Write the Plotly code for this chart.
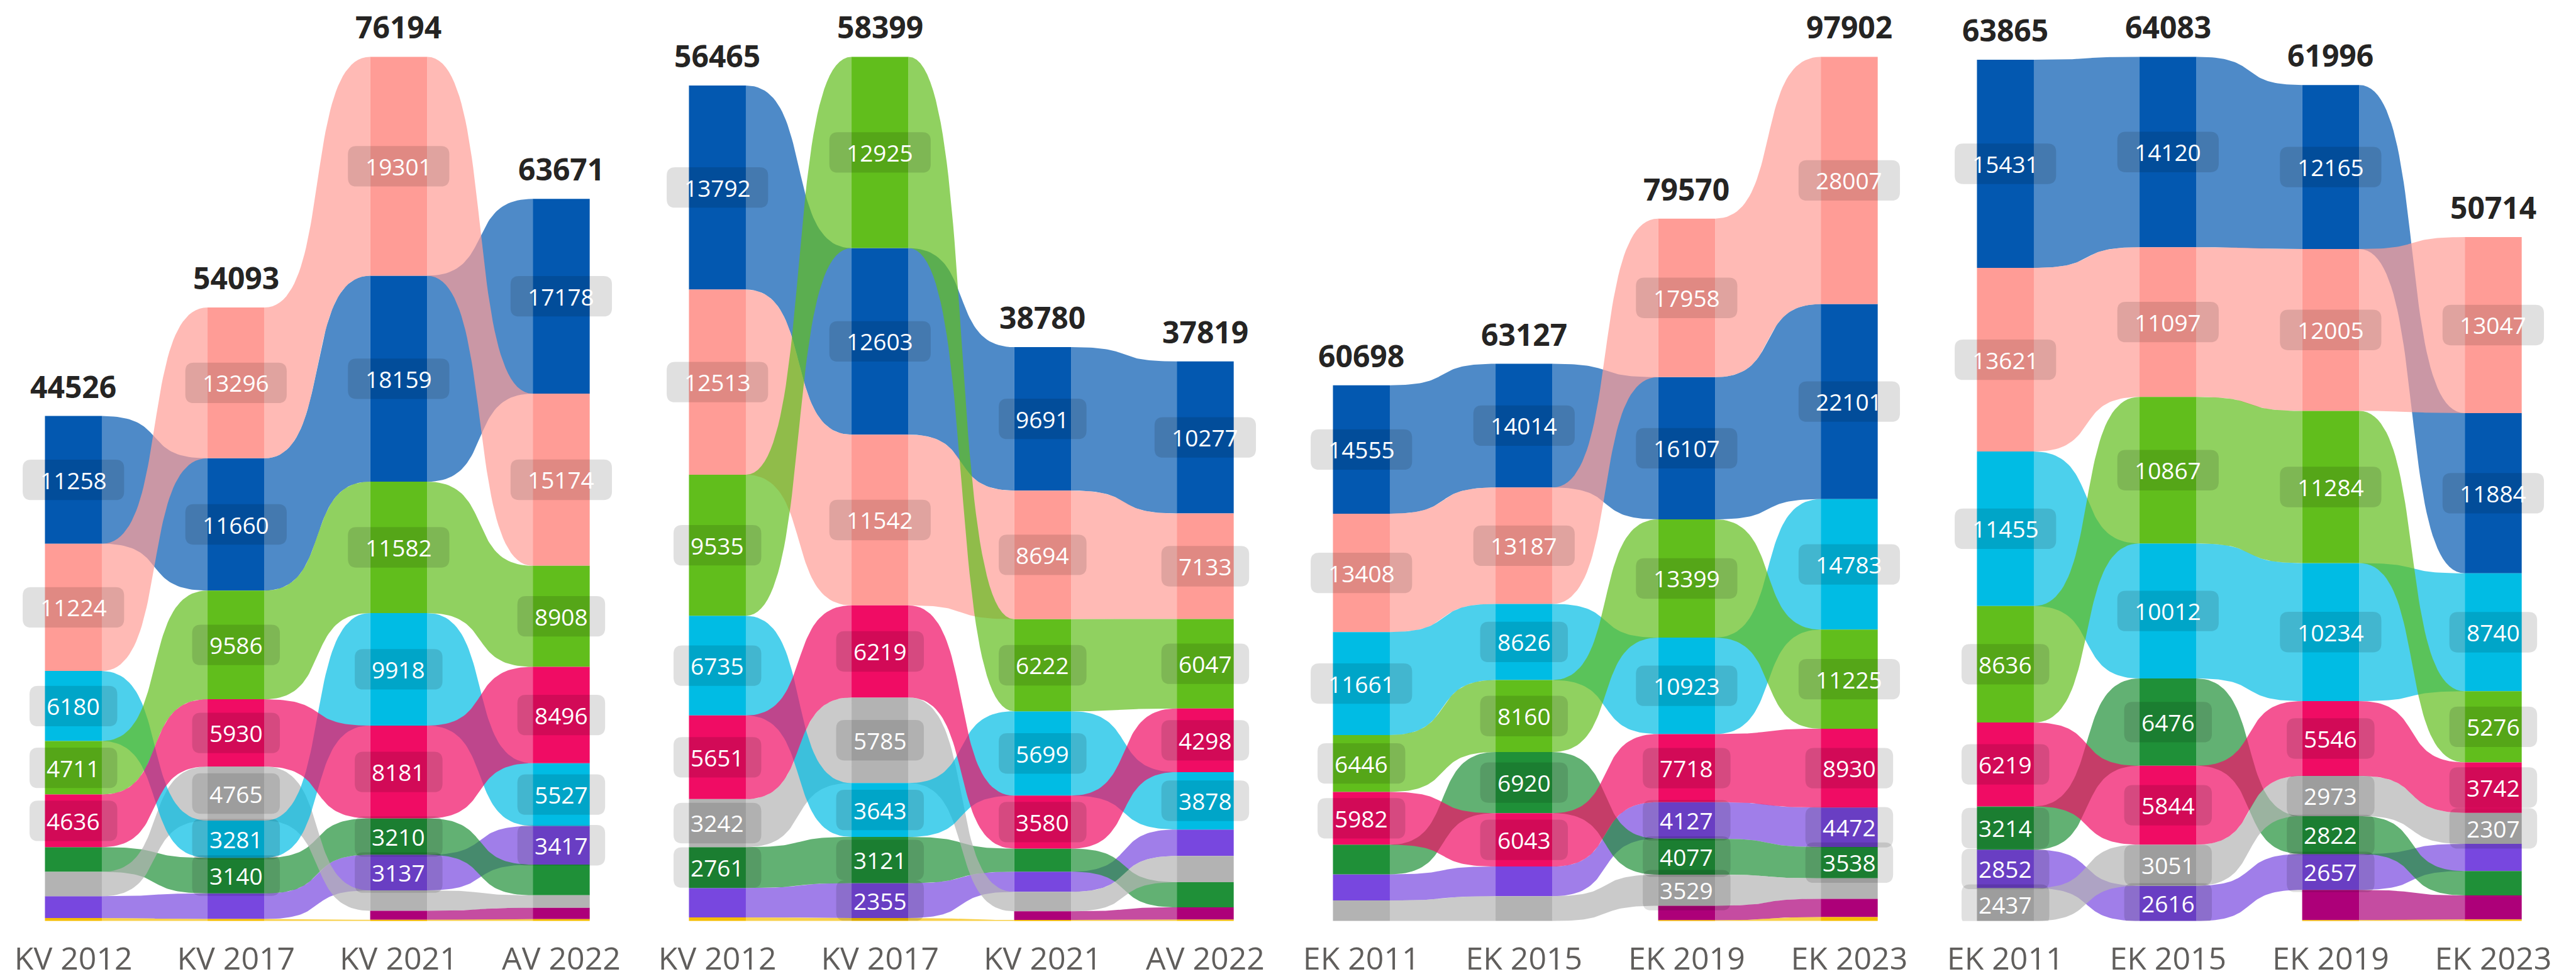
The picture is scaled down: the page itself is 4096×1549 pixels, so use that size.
import numpy as np
import plotly.graph_objects as go

# ---------------- data ----------------
# draw order of ribbons (bottom -> top)
PARTIES = ["KOK", "SDP", "KD", "KESK", "RKP", "PS", "VIHR", "VAS", "LIIK", "MUUT"]
COLORS = {
    "KOK": (3, 88, 176),
    "SDP": (255, 156, 150),
    "KD": (120, 71, 223),
    "KESK": (31, 144, 56),
    "RKP": (179, 179, 179),
    "PS": (0, 188, 228),
    "VIHR": (97, 190, 28),
    "VAS": (240, 12, 100),
    "LIIK": (173, 0, 121),
    "MUUT": (245, 189, 0),
}

PANEL1_COLS = ["KV 2012", "KV 2017", "KV 2021", "AV 2022"]
PANEL1 = {
    "KOK": [11258, 11660, 18159, 17178],
    "SDP": [11224, 13296, 19301, 15174],
    "VIHR": [4711, 9586, 11582, 8908],
    "PS": [6180, 3281, 9918, 5527],
    "VAS": [4636, 5930, 8181, 8496],
    "KESK": [2180, 3140, 3210, 2700],
    "RKP": [2150, 4765, 1800, 1110],
    "KD": [1930, 2260, 3137, 3417],
    "LIIK": [0, 0, 800, 1000],
    "MUUT": [257, 175, 106, 161],
}
PANEL1_LABELED = [5, 7, 7, 6]

PANEL2_COLS = ["KV 2012", "KV 2017", "KV 2021", "AV 2022"]
PANEL2 = {
    "KOK": [13792, 12603, 9691, 10277],
    "SDP": [12513, 11542, 8694, 7133],
    "VIHR": [9535, 12925, 6222, 6047],
    "PS": [6735, 3643, 5699, 3878],
    "VAS": [5651, 6219, 3580, 4298],
    "KESK": [2761, 3121, 1560, 1700],
    "RKP": [3242, 5785, 1320, 1770],
    "KD": [1990, 2355, 1360, 1790],
    "LIIK": [0, 0, 580, 830],
    "MUUT": [246, 206, 74, 96],
}
PANEL2_LABELED = [7, 8, 5, 5]

PANEL3_COLS = ["EK 2011", "EK 2015", "EK 2019", "EK 2023"]
PANEL3 = {
    "KOK": [14555, 14014, 16107, 22101],
    "SDP": [13408, 13187, 17958, 28007],
    "VIHR": [6446, 8160, 13399, 11225],
    "PS": [11661, 8626, 10923, 14783],
    "VAS": [5982, 6043, 7718, 8930],
    "KESK": [3350, 6920, 4077, 3538],
    "RKP": [2326, 2817, 3529, 2330],
    "KD": [2970, 3360, 4127, 4472],
    "LIIK": [0, 0, 1640, 2076],
    "MUUT": [0, 0, 92, 440],
}
PANEL3_LABELED = [5, 6, 8, 7]

PANEL4_COLS = ["EK 2011", "EK 2015", "EK 2019", "EK 2023"]
PANEL4 = {
    "KOK": [15431, 14120, 12165, 11884],
    "SDP": [13621, 11097, 12005, 13047],
    "VIHR": [8636, 10867, 11284, 5276],
    "PS": [11455, 10012, 10234, 8740],
    "VAS": [6219, 5844, 5546, 3742],
    "KESK": [3214, 6476, 2822, 1805],
    "RKP": [2437, 3051, 2973, 2307],
    "KD": [2852, 2616, 2657, 2010],
    "LIIK": [0, 0, 2240, 1783],
    "MUUT": [0, 0, 70, 120],
}
PANEL4_LABELED = [8, 8, 8, 6]

PANELS = [
    (PANEL1_COLS, PANEL1, PANEL1_LABELED),
    (PANEL2_COLS, PANEL2, PANEL2_LABELED),
    (PANEL3_COLS, PANEL3, PANEL3_LABELED),
    (PANEL4_COLS, PANEL4, PANEL4_LABELED),
]

# ---------------- layout constants ----------------
W, H = 4096, 1549
S = W / 4521.0
FONT = "Open Sans, Segoe UI, sans-serif"
BAR_W = 0.35
RIBBON_ALPHA = 0.7
CTRL = 0.65
X_RANGE = [-120 / 285.4, (1130.25 - 120) / 285.4]
Y_DOMAIN = [0.0485, 0.9462]


def rgb(c):
    return "rgb(%d,%d,%d)" % c


def rgba(c, a):
    return "rgba(%d,%d,%d,%.2f)" % (c[0], c[1], c[2], a)


def positions(data, ncol):
    """top/bottom of each party's segment per column, sorted largest at top"""
    pos = {p: [None] * ncol for p in data}
    totals = []
    order = []
    for j in range(ncol):
        vals = [(p, data[p][j]) for p in PARTIES if p in data and data[p][j] > 0]
        vals.sort(key=lambda t: -t[1])
        total = sum(v for _, v in vals)
        totals.append(total)
        top = total
        for p, v in vals:
            pos[p][j] = (top, top - v)
            top -= v
        order.append([p for p, _ in vals])
    return pos, totals, order


def round_rect_path(w, h, r):
    hw, hh = w / 2.0, h / 2.0
    return (
        f"M {-hw + r},{-hh} L {hw - r},{-hh} Q {hw},{-hh} {hw},{-hh + r} "
        f"L {hw},{hh - r} Q {hw},{hh} {hw - r},{hh} L {-hw + r},{hh} "
        f"Q {-hw},{hh} {-hw},{hh - r} L {-hw},{-hh + r} Q {-hw},{-hh} {-hw + r},{-hh} Z"
    )


t = np.linspace(0, 1, 48)
BX = 3 * CTRL * (1 - t) ** 2 * t + 3 * (1 - CTRL) * (1 - t) * t ** 2 + t ** 3
BY = 3 * (1 - t) * t ** 2 + t ** 3

fig = go.Figure()
shapes = []
annotations = []

for k, (cols, data, labeled) in enumerate(PANELS):
    ncol = len(cols)
    xa = "x" if k == 0 else f"x{k + 1}"
    ya = "y" if k == 0 else f"y{k + 1}"
    pos, totals, order = positions(data, ncol)

    # bars
    for p in PARTIES:
        if p not in data:
            continue
        ys, bases = [], []
        for j in range(ncol):
            if pos[p][j] is None:
                ys.append(0)
                bases.append(0)
            else:
                ys.append(pos[p][j][0] - pos[p][j][1])
                bases.append(pos[p][j][1])
        fig.add_trace(go.Bar(
            x=list(range(ncol)), y=ys, base=bases, width=BAR_W,
            marker=dict(color=rgb(COLORS[p]), line=dict(width=0)),
            xaxis=xa, yaxis=ya, hoverinfo="skip", showlegend=False,
        ))

    # ribbons
    for p in PARTIES:
        if p not in data:
            continue
        xs, ysr = [], []
        for j in range(ncol - 1):
            a, b = pos[p][j], pos[p][j + 1]
            if a is None or b is None:
                continue
            x0 = j + BAR_W / 2
            x1 = j + 1 - BAR_W / 2
            xx = x0 + (x1 - x0) * BX
            ytop = a[0] + (b[0] - a[0]) * BY
            ybot = a[1] + (b[1] - a[1]) * BY
            xs += list(xx) + list(xx[::-1]) + [None]
            ysr += list(ytop) + list(ybot[::-1]) + [None]
        if xs:
            fig.add_trace(go.Scatter(
                x=xs, y=ysr, mode="lines", fill="toself",
                fillcolor=rgba(COLORS[p], RIBBON_ALPHA),
                line=dict(width=0), xaxis=xa, yaxis=ya,
                hoverinfo="skip", showlegend=False,
            ))

    # value labels
    for j in range(ncol):
        for p in order[j][: labeled[j]]:
            top, bot = pos[p][j]
            v = data[p][j]
            mid = (top + bot) / 2.0
            txt = str(v)
            bw = (178 if len(txt) >= 5 else 154) * S
            shapes.append(dict(
                type="path", xref=xa, yref=ya, xsizemode="pixel", ysizemode="pixel",
                xanchor=j, yanchor=mid, path=round_rect_path(bw, 71 * S, 15 * S),
                fillcolor="rgba(0,0,0,0.12)", line=dict(width=0), layer="above",
            ))
            annotations.append(dict(
                x=j, y=mid, xref=xa, yref=ya, text=txt, showarrow=False,
                font=dict(family=FONT, size=37, color="white"),
                xanchor="center", yanchor="middle",
            ))

    # totals
    for j in range(ncol):
        annotations.append(dict(
            x=j, y=totals[j], xref=xa, yref=ya, text=f"<b>{totals[j]}</b>",
            showarrow=False, yanchor="bottom", xanchor="center", yshift=13,
            font=dict(family=FONT, size=48, color="#252423"),
        ))

    fig.layout[("xaxis" if k == 0 else f"xaxis{k + 1}")] = dict(
        domain=[k * 0.25, (k + 1) * 0.25], range=X_RANGE, anchor=ya,
        showgrid=False, zeroline=False, showline=False,
        tickmode="array", tickvals=list(range(ncol)), ticktext=cols,
        ticks="outside", ticklen=16, tickcolor="rgba(0,0,0,0)",
        tickfont=dict(family=FONT, size=50, color="#605E5C"), fixedrange=True,
    )
    fig.layout[("yaxis" if k == 0 else f"yaxis{k + 1}")] = dict(
        domain=Y_DOMAIN, range=[0, max(totals)], anchor=xa, visible=False,
        fixedrange=True,
    )

fig.update_layout(
    width=W, height=H, margin=dict(l=0, r=0, t=0, b=0),
    paper_bgcolor="white", plot_bgcolor="white", barmode="overlay",
    shapes=shapes, annotations=annotations, showlegend=False,
    font=dict(family=FONT),
)

fig.write_html("out.html")
